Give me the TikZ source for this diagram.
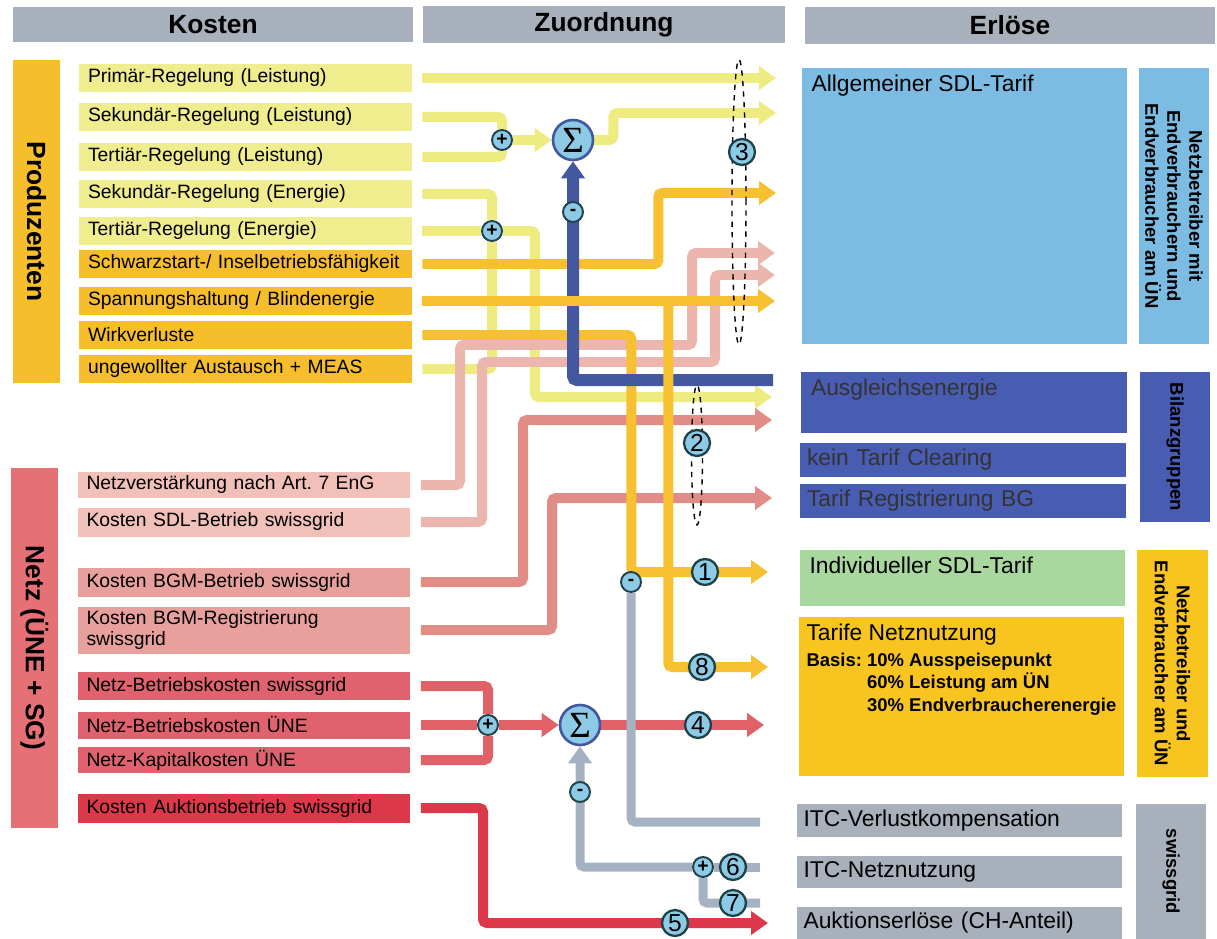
\documentclass[tikz,border=0pt]{standalone}
\usepackage{fontspec}
\setmainfont{Liberation Sans}
\newfontfamily\sigmafont{Liberation Serif}
\usetikzlibrary{arrows.meta, positioning, shapes.geometric}

\definecolor{kopfgrau}{RGB}{168,176,188}
\definecolor{gelbbox}{RGB}{239,237,142}
\definecolor{gelblinie}{RGB}{238,236,128}
\definecolor{orangebox}{RGB}{246,190,42}
\definecolor{orangelinie}{RGB}{246,192,48}
\definecolor{rosabox}{RGB}{241,192,184}
\definecolor{rosalinie}{RGB}{236,182,174}
\definecolor{pinkbox}{RGB}{232,160,156}
\definecolor{pinklinie}{RGB}{226,140,136}
\definecolor{rotbox}{RGB}{224,98,110}
\definecolor{rotlinie}{RGB}{224,98,104}
\definecolor{aukrot}{RGB}{220,56,74}
\definecolor{netzbar}{RGB}{229,112,118}
\definecolor{hellblau}{RGB}{124,188,226}
\definecolor{dunkelblau}{RGB}{72,92,178}
\definecolor{blaulinie}{RGB}{68,88,160}
\definecolor{gruen}{RGB}{168,216,158}
\definecolor{gold}{RGB}{247,196,32}
\definecolor{graulinie}{RGB}{164,178,196}
\definecolor{kreis}{RGB}{140,202,230}
\definecolor{kreisrand}{RGB}{30,66,72}

\pgfdeclarelayer{fluss}
\pgfsetlayers{fluss,main}

\begin{document}
\begin{tikzpicture}[
        x=0.02cm, y=-0.02cm,
        kopf/.style={
            rectangle,
            fill=kopfgrau,
            minimum height=0.7cm,
            font=\fontsize{15}{18}\selectfont\bfseries
        },
        kbox/.style={
            rectangle,
            minimum width=6.66cm,
            minimum height=0.58cm,
            text width=6.3cm,
            inner xsep=0.18cm,
            inner ysep=0pt,
            align=left,
            font=\fontsize{11}{12.5}\selectfont
        },
        ebox/.style={
            rectangle,
            minimum width=6.52cm,
            text width=6.24cm,
            inner xsep=0.14cm,
            inner ysep=0pt,
            align=left,
            font=\fontsize{13}{15}\selectfont
        },
        etitel/.style={
            anchor=north west,
            inner xsep=0.2cm,
            inner ysep=0.14cm,
            font=\fontsize{13}{15}\selectfont
        },
        seite/.style={
            rectangle,
            rotate=-90,
            align=center,
            font=\fontsize{10.5}{12.5}\selectfont\bfseries
        },
        fluss/.style={line width=0.2cm, rounded corners=0.08cm},
        pfeil/.style={-{Triangle[length=0.34cm, width=0.46cm]}},
        pm/.style={
            circle,
            draw=kreisrand,
            line width=1.1pt,
            fill=kreis,
            minimum size=0.4cm,
            inner sep=0pt,
            font=\fontsize{11}{11}\selectfont\bfseries
        },
        nr/.style={
            circle,
            draw=kreisrand,
            line width=1.3pt,
            fill=kreis,
            minimum size=0.52cm,
            inner sep=0pt,
            font=\fontsize{14}{14}\selectfont
        },
        summe/.style={
            circle,
            draw=blaulinie,
            line width=1.5pt,
            fill=kreis,
            minimum size=0.8cm,
            inner sep=0pt,
            font=\fontsize{21}{21}\selectfont\sigmafont
        },
        gruppe/.style={ellipse, draw=black, dashed, line width=0.8pt, inner sep=0pt}
    ]
        \useasboundingbox (0,0) rectangle (1217,939);

        \node (kosten) [kopf, minimum width=8cm] at (213,24.5) {Kosten};
        \node (zuordnung) [kopf, minimum width=7.24cm] at (604,24.5) {Zuordnung};
        \node (erloese) [kopf, minimum width=8.2cm, minimum height=0.74cm] at (1010,25.5) {Erlöse};

        \node (prod) [seite, fill=orangebox, minimum width=6.46cm, minimum height=0.94cm, font=\fontsize{15}{18}\selectfont\bfseries] at (36.5,221.5) {Produzenten};
        \node (netz) [seite, fill=netzbar, minimum width=7.2cm, minimum height=0.94cm, font=\fontsize{15}{18}\selectfont\bfseries] at (34.5,648) {Netz (ÜNE + SG)};

        \node (prim) [kbox, fill=gelbbox] at (245.5,78) {Primär-Regelung (Leistung)};
        \node (sekl) [kbox, fill=gelbbox] at (245.5,117) {Sekundär-Regelung (Leistung)};
        \node (tertl) [kbox, fill=gelbbox] at (245.5,157) {Tertiär-Regelung (Leistung)};
        \node (seke) [kbox, fill=gelbbox] at (245.5,194) {Sekundär-Regelung (Energie)};
        \node (terte) [kbox, fill=gelbbox] at (245.5,231) {Tertiär-Regelung (Energie)};
        \node (schw) [kbox, fill=orangebox, minimum height=0.56cm] at (245.5,264) {Schwarzstart-/ Inselbetriebsfähigkeit};
        \node (spann) [kbox, fill=orangebox] at (245.5,301) {Spannungshaltung / Blindenergie};
        \node (wirk) [kbox, fill=orangebox, minimum height=0.56cm] at (245.5,335) {Wirkverluste};
        \node (ungew) [kbox, fill=orangebox] at (245.5,369) {ungewollter Austausch + MEAS};

        \node (nv) [kbox, fill=rosabox, minimum height=0.54cm] at (244,485) {Netzverstärkung nach Art.\ 7 EnG};
        \node (sdlb) [kbox, fill=rosabox] at (244,522) {Kosten SDL-Betrieb swissgrid};
        \node (bgmb) [kbox, fill=pinkbox] at (244,582) {Kosten BGM-Betrieb swissgrid};
        \node (bgmr) [kbox, fill=pinkbox, minimum height=0.94cm] at (244,630) {Kosten BGM-Registrierung\\swissgrid};
        \node (nbsg) [kbox, fill=rotbox, minimum height=0.56cm] at (244,686) {Netz-Betriebskosten swissgrid};
        \node (nbune) [kbox, fill=rotbox, minimum height=0.54cm] at (244,725) {Netz-Betriebskosten ÜNE};
        \node (nkune) [kbox, fill=rotbox, minimum height=0.52cm] at (244,760) {Netz-Kapitalkosten ÜNE};
        \node (auk) [kbox, fill=aukrot] at (244,808) {Kosten Auktionsbetrieb swissgrid};

        \node (sdl) [ebox, fill=hellblau, minimum height=5.52cm, label={[etitel]north west:Allgemeiner SDL-Tarif}] at (964.5,206) {};
        \node (aus) [ebox, fill=dunkelblau, minimum height=1.22cm, label={[etitel, text=black!80]north west:Ausgleichsenergie}] at (964,402.5) {};
        \node (clear) [ebox, fill=dunkelblau, minimum height=0.68cm, text=black!80] at (963,460) {kein Tarif Clearing};
        \node (reg) [ebox, fill=dunkelblau, minimum height=0.68cm, text=black!80] at (963,501) {Tarif Registrierung BG};
        \node (indiv) [ebox, fill=gruen, minimum height=1.12cm, label={[etitel]north west:Individueller SDL-Tarif}] at (962.5,578) {};
        \node (nn) [ebox, fill=gold, minimum height=3.18cm] at (961.5,696.5) {};
        \node (nntext) [etitel, align=left, inner xsep=0.16cm] at (nn.north west) {Tarife Netznutzung\\[2pt]
            {\fontsize{10.5}{12.8}\selectfont\bfseries
            \begin{tabular}{@{}l@{\hspace{3pt}}l@{}}
                Basis: & 10\% Ausspeisepunkt\\
                       & 60\% Leistung am ÜN\\
                       & 30\% Endverbraucherenergie
            \end{tabular}}};
        \node (itcv) [ebox, fill=kopfgrau, minimum height=0.66cm] at (959.5,820.5) {ITC-Verlustkompensation};
        \node (itcn) [ebox, fill=kopfgrau, minimum height=0.64cm] at (959.5,872) {ITC-Netznutzung};
        \node (auke) [ebox, fill=kopfgrau, minimum height=0.64cm] at (959.5,923) {Auktionserlöse (CH-Anteil)};

        \node (seite1) [seite, fill=hellblau, minimum width=5.52cm, minimum height=1.36cm] at (1174,206) {Netzbetreiber mit\\Endverbrauchern und\\Endverbraucher am ÜN};
        \node (seite2) [seite, fill=dunkelblau, minimum width=3cm, minimum height=1.4cm] at (1175,447) {Bilanzgruppen};
        \node (seite3) [seite, fill=gold, minimum width=4.54cm, minimum height=1.42cm] at (1172.5,663.5) {Netzbetreiber und\\Endverbraucher am ÜN};
        \node (seite4) [seite, fill=kopfgrau, minimum width=2.7cm, minimum height=1.4cm] at (1171,871.5) {swissgrid};

        \node (sigA) [summe] at (573,140) {Σ};
        \node (sigB) [summe] at (580,725) {Σ};
        \node (plusA) [pm] at (502,140) {+};
        \node (plusB) [pm] at (492,231) {+};
        \node (plusC) [pm] at (488,725) {+};
        \node (plusD) [pm] at (703,867) {+};
        \node (minusA) [pm] at (573,212) {-};
        \node (minusW) [pm] at (631,582) {-};
        \node (minusB) [pm] at (580,792) {-};

        \coordinate (z-prim) at (776,78);
        \coordinate (z-sek) at (776,113);
        \coordinate (z-schw) at (776,193);
        \coordinate (z-nv) at (775,253);
        \coordinate (z-sdlb) at (775,275);
        \coordinate (z-spann) at (775,301);
        \coordinate (z-aus) at (772,397);
        \coordinate (z-bgmb) at (772,420);
        \coordinate (z-bgmr) at (772,498);
        \coordinate (z-indiv) at (768,572);
        \coordinate (z-nn) at (768,667);
        \coordinate (z-nn2) at (764,725);
        \coordinate (z-auk) at (768,923);
        \coordinate (b-aus) at (773,380);
        \coordinate (g-ver) at (760,822);
        \coordinate (g-netz) at (760,867);
        \coordinate (g-auk) at (760,903);

        \begin{pgfonlayer}{fluss}
            \draw [fluss, gelblinie, pfeil] ([xshift=0.2cm]prim.east) -- (z-prim);
            \draw [fluss, gelblinie] ([xshift=0.2cm]sekl.east) -| (plusA);
            \draw [fluss, gelblinie] ([xshift=0.2cm]tertl.east) -| (plusA);
            \draw [fluss, gelblinie, pfeil] (plusA) -- (sigA);
            \draw [fluss, gelblinie, pfeil] (sigA.east) -- ++(0.38cm,0) |- (z-sek);
            \draw [fluss, gelblinie] ([xshift=0.2cm]seke.east) -| (plusB);
            \draw [fluss, gelblinie] ([xshift=0.2cm]terte.east) -- (plusB);
            \draw [fluss, gelblinie] ([xshift=0.2cm]ungew.east) -| (plusB);
            \draw [fluss, gelblinie, pfeil] (plusB) -- ++(0.86cm,0) |- (z-aus);

            \draw [fluss, rosalinie, pfeil] ([xshift=0.2cm]nv.east) -| (460,345) -| (692,253) -- (z-nv);
            \draw [fluss, rosalinie, pfeil] ([xshift=0.2cm]sdlb.east) -| (482,362) -| (715,275) -- (z-sdlb);
            \draw [fluss, pinklinie, pfeil] ([xshift=0.2cm]bgmb.east) -| (523,420) -- (z-bgmb);
            \draw [fluss, pinklinie, pfeil] ([xshift=0.2cm]bgmr.east) -| (552,498) -- (z-bgmr);

            \draw [fluss, orangelinie, pfeil] ([xshift=0.2cm]schw.east) -- ++(4.72cm,0) |- (z-schw);
            \draw [fluss, orangelinie, pfeil] ([xshift=0.2cm]wirk.east) -- ++(4.18cm,0) |- (z-indiv);

            \draw [fluss, blaulinie, line width=0.24cm, pfeil] (b-aus) -| (sigA);

            \draw [fluss, orangelinie, pfeil] ([xshift=0.2cm]spann.east) -- (z-spann);
            \draw [fluss, orangelinie, pfeil] ([xshift=5.12cm]spann.east) |- (z-nn);

            \draw [fluss, rotlinie] ([xshift=0.2cm]nbsg.east) -| (plusC);
            \draw [fluss, rotlinie] ([xshift=0.2cm]nbune.east) -- (plusC);
            \draw [fluss, rotlinie] ([xshift=0.2cm]nkune.east) -| (plusC);
            \draw [fluss, rotlinie, pfeil] (plusC) -- (sigB);
            \draw [fluss, rotlinie, pfeil] (sigB) -- (z-nn2);
            \draw [fluss, aukrot, pfeil] ([xshift=0.2cm]auk.east) -| (483,923) -- (z-auk);

            \draw [fluss, graulinie, line width=0.18cm] (g-ver) -| (minusW);
            \draw [fluss, graulinie, line width=0.18cm] (g-netz) -- (plusD);
            \draw [fluss, graulinie, line width=0.18cm] (g-auk) -| (plusD);
            \draw [fluss, graulinie, line width=0.18cm, pfeil] (plusD) -| (sigB);
        \end{pgfonlayer}

        \node (oval3) [gruppe, minimum width=0.28cm, minimum height=5.7cm] at (739,202) {};
        \node (oval2) [gruppe, minimum width=0.22cm, minimum height=2.8cm] at (697,455) {};

        \node (n1) [nr] at (705,572) {1};
        \node (n2) [nr] at (697,443) {2};
        \node (n3) [nr] at (742,152) {3};
        \node (n4) [nr] at (698,725) {4};
        \node (n5) [nr] at (675,923) {5};
        \node (n6) [nr] at (733,867) {6};
        \node (n7) [nr] at (733,903) {7};
        \node (n8) [nr] at (702,667) {8};
    \end{tikzpicture}
\end{document}
